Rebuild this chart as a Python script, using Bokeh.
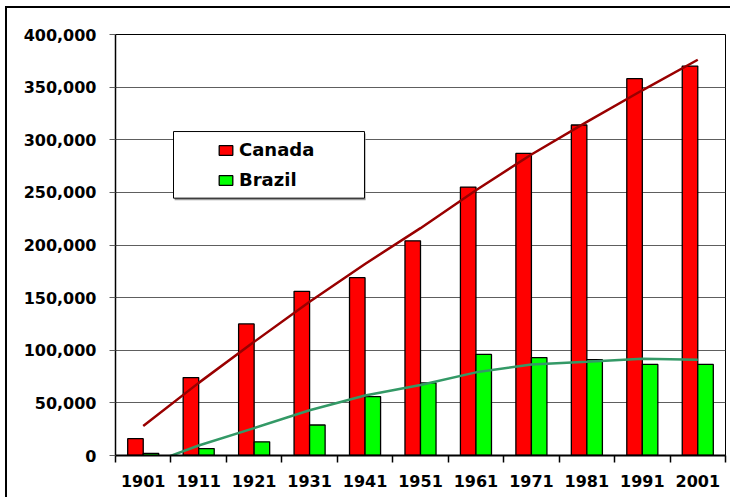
from bokeh.plotting import figure
from bokeh.models import (Range1d, FixedTicker, NumeralTickFormatter, Legend, LegendItem,
                          BoxAnnotation, ColumnDataSource)
from bokeh.transform import dodge
from bokeh.embed import file_html
from bokeh.resources import INLINE

years = ["1901", "1911", "1921", "1931", "1941", "1951", "1961", "1971", "1981", "1991", "2001"]
canada = [16000, 74000, 125000, 156000, 169000, 204000, 255000, 287000, 314000, 358000, 370000]
brazil = [2000, 6600, 13000, 29000, 56000, 69000, 96000, 93000, 91000, 86500, 86500]
canada_trend = [28000, 69000, 108000, 146000, 182000, 216000, 252000, 286000, 317000, 347000, 376000]
brazil_trend = [-10000, 9500, 26000, 43000, 57000, 67000, 79000, 86500, 89000, 92000, 91000]
y_ticks = [0, 50000, 100000, 150000, 200000, 250000, 300000, 350000, 400000]

n = len(years)
xs = [i + 0.5 for i in range(n)]
src = ColumnDataSource(dict(x=xs, year=years, canada=canada, brazil=brazil,
                            ct=canada_trend, bt=brazil_trend))

FONT = "DejaVu Sans"

p = figure(width=725, height=491, output_backend="svg", toolbar_location=None,
           x_range=Range1d(0, n), y_range=Range1d(0, 400000),
           min_border_left=108, min_border_right=7, min_border_top=26, min_border_bottom=44)
p.styles = {"margin-left": "7px", "margin-top": "8px",
            "box-shadow": "-2px -2px 0px 0px #000000"}
p.background_fill_color = "white"
p.border_fill_color = "white"
p.outline_line_color = "black"
p.outline_line_width = 1

p.xgrid.grid_line_color = None
p.ygrid.grid_line_color = "#5e5e5e"
p.ygrid.grid_line_width = 1
p.ygrid.ticker = FixedTicker(ticks=y_ticks)

# y axis
p.yaxis.ticker = FixedTicker(ticks=y_ticks)
p.yaxis.formatter = NumeralTickFormatter(format="0,0")
p.yaxis.axis_line_color = "black"
p.yaxis.axis_line_width = 1.5
p.yaxis.major_tick_line_color = "#5e5e5e"
p.yaxis.major_tick_out = 6
p.yaxis.major_tick_in = 0
p.yaxis.minor_tick_line_color = None
p.yaxis.major_label_standoff = 13
p.yaxis.major_label_text_font = FONT
p.yaxis.major_label_text_font_style = "bold"
p.yaxis.major_label_text_font_size = "16px"
p.yaxis.major_label_text_color = "black"

# x axis: labels at category centres, ticks at boundaries
p.xaxis.ticker = FixedTicker(ticks=xs, minor_ticks=list(range(n + 1)))
p.xaxis.major_label_overrides = {x: y for x, y in zip(xs, years)}
p.xaxis.axis_line_color = "black"
p.xaxis.axis_line_width = 2
p.xaxis.major_tick_line_color = None
p.xaxis.major_tick_out = 7
p.xaxis.major_tick_in = 0
p.xaxis.minor_tick_line_color = "black"
p.xaxis.minor_tick_line_width = 1.5
p.xaxis.minor_tick_out = 7
p.xaxis.minor_tick_in = 0
p.xaxis.major_label_standoff = 12
p.xaxis.major_label_text_font = FONT
p.xaxis.major_label_text_font_style = "bold"
p.xaxis.major_label_text_font_size = "16px"
p.xaxis.major_label_text_color = "black"

# bars
r_ca = p.vbar(x=dodge("x", -0.14), top="canada", width=0.28, source=src,
              fill_color="#ff0000", line_color="black", line_width=1.3)
r_br = p.vbar(x=dodge("x", 0.14), top="brazil", width=0.28, source=src,
              fill_color="#00ff00", line_color="black", line_width=1.3)

# trend lines
p.line(x="x", y="ct", source=src, line_color="#990000", line_width=2.5)
p.line(x="x", y="bt", source=src, line_color="#339966", line_width=2.5)

# legend box (with a faint shadow)
shadow = BoxAnnotation(left=1.066, right=4.51, bottom=242600, top=305900,
                       fill_color="#9a9a9a", fill_alpha=1, line_alpha=0)
box = BoxAnnotation(left=1.046, right=4.49, bottom=244500, top=307800,
                    fill_color="white", fill_alpha=1, line_color="black",
                    line_alpha=1, line_width=1)
p.add_layout(shadow)
p.add_layout(box)

legend = Legend(items=[LegendItem(label="Canada", renderers=[r_ca]),
                       LegendItem(label="Brazil", renderers=[r_br])],
                location=(102, 265), padding=0, margin=0,
                border_line_color=None, background_fill_alpha=0,
                glyph_width=17, glyph_height=12, label_standoff=5,
                label_text_font=FONT, label_text_font_style="bold",
                label_text_color="black",
                label_text_font_size="18px", label_height=21, spacing=9)
p.add_layout(legend, "center")

open("out.html", "w").write(file_html(p, INLINE))
